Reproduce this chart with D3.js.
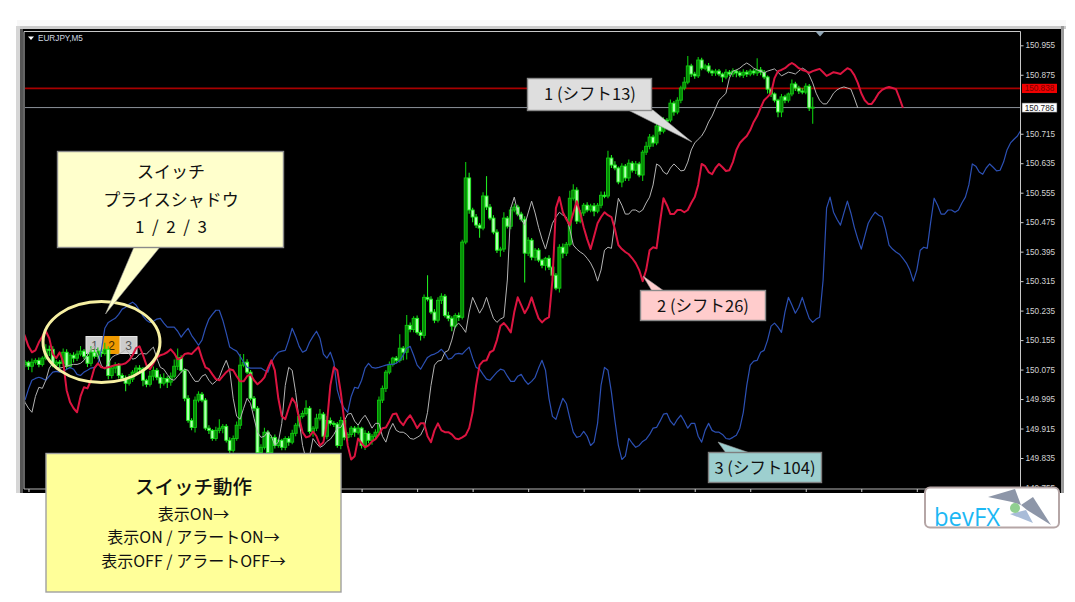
<!DOCTYPE html>
<html><head><meta charset="utf-8">
<script src="https://d3js.org/d3.v7.min.js"></script>
<style>html,body{margin:0;padding:0;background:#fff}svg{display:block}</style>
</head><body><div id="chart"></div>
<script>
// Chart title and axis values
const symbolLabel = "EURJPY,M5";
const priceTicks = [150.955,150.875,150.715,150.635,150.555,150.475,150.395,150.315,150.235,150.155,150.075,149.995,149.915,149.835,149.755];
const timeTicks = [1,17,33,49,65,81,97,113,129,145,161,177,193,209,225,241,257,273,289];
const askPrice = 150.838, bidPrice = 150.786;
const firstOpen = 150.089;

// Candle closes
const candleClose = [
150.095,150.084,150.095,150.100,150.089,150.106,150.130,150.130,150.087,150.095,
150.092,150.122,150.084,150.114,150.106,150.117,150.125,150.111,150.092,150.122,
150.111,150.125,150.119,150.130,150.059,150.079,150.087,150.059,150.051,150.038,
150.049,150.068,150.079,150.076,150.046,150.035,150.057,150.073,150.054,150.038,
150.051,150.041,150.057,150.084,150.108,150.073,149.997,149.937,149.918,149.992,
150.008,149.992,149.916,149.910,149.888,149.910,149.916,149.921,149.883,149.856,
149.888,149.924,150.087,150.095,150.068,149.997,149.970,149.850,149.864,149.905,
149.850,149.891,149.869,149.883,149.864,149.888,149.878,149.902,149.924,149.948,
149.956,149.970,149.907,149.916,149.943,149.954,149.894,149.937,149.929,149.927,
149.869,149.937,149.891,149.899,149.916,149.905,149.916,149.869,149.902,149.883,
149.894,149.905,149.992,150.024,150.068,150.089,150.106,150.100,150.133,150.122,
150.195,150.184,150.214,150.176,150.168,150.271,150.266,150.231,150.209,150.263,
150.274,150.222,150.214,150.193,150.222,150.217,150.421,150.595,150.508,150.489,
150.467,150.459,150.546,150.516,150.486,150.448,150.399,150.402,150.486,150.464,
150.508,150.516,150.497,150.483,150.391,150.426,150.380,150.399,150.372,150.358,
150.377,150.353,150.331,150.296,150.407,150.391,150.415,150.540,150.562,150.478,
150.500,150.521,150.508,150.519,150.505,150.521,150.548,150.546,150.649,150.630,
150.622,150.584,150.627,150.595,150.635,150.616,150.633,150.603,150.665,150.681,
150.706,150.690,150.736,150.722,150.752,150.752,150.798,150.774,150.806,150.839,
150.855,150.899,150.877,150.872,150.915,150.893,150.899,150.885,150.880,150.885,
150.877,150.869,150.882,150.877,150.885,150.880,150.874,150.882,150.877,150.885,
150.880,150.888,150.882,150.869,150.836,150.823,150.806,150.774,150.815,150.806,
150.823,150.850,150.839,150.831,150.828,150.844,150.785,150.787];

// Upper and lower wick lengths in points (0.001)
const wickUp = [
6,4,10,6,8,5,14,10,8,6, 6,10,8,6,8,10,14,6,8,16, 8,10,6,18,8,6,8,6,6,8, 14,6,8,8,6,4,14,10,6,8,
14,6,10,18,24,6,5,8,6,10, 8,6,6,8,4,10,24,6,6,8, 8,10,30,22,8,6,6,6,8,12, 6,6,8,4,4,6,6,10,6,6,
8,22,6,6,12,14,6,12,8,6, 6,10,8,6,6,6,8,4,8,6, 6,8,10,8,6,8,4,6,38,6, 28,8,6,8,6,8,60,8,8,8,
8,6,10,6,6,8,6,43,14,6, 8,6,10,54,8,8,8,6,16,6, 8,10,6,6,8,8,6,6,6,4, 4,8,4,6,8,10,6,20,16,8,
8,6,8,6,8,6,10,10,20,8, 10,4,8,6,10,6,8,6,6,12, 8,6,10,6,8,6,10,6,8,6, 14,27,6,6,8,6,6,8,4,6,
6,4,8,6,8,4,6,8,6,6, 6,32,8,6,4,4,4,4,8,6, 4,12,6,6,8,8,6,27];
const wickDown = [
8,10,16,6,8,6,6,18,6,8, 14,8,8,6,12,8,6,8,10,8, 6,8,10,6,10,8,14,8,6,22, 6,8,6,8,16,8,6,12,8,14,
6,16,10,6,10,6,8,6,8,14, 6,6,6,10,6,6,8,14,6,8, 6,6,10,6,6,6,8,6,6,6, 6,6,8,6,8,8,10,6,8,6,
6,6,6,14,8,6,6,8,6,8, 6,10,8,10,8,12,6,8,12,8, 12,8,6,8,10,6,6,8,6,22, 20,8,8,6,14,8,6,6,8,6,
10,6,8,14,6,10,6,6,10,14, 8,26,6,8,6,6,8,18,8,6, 8,6,6,6,80,8,8,10,6,8, 14,8,10,6,12,14,8,6,6,8,
6,8,6,6,14,6,8,6,6,8, 6,6,14,8,8,6,10,6,16,8, 8,10,6,10,6,8,6,10,6,8, 6,6,8,8,6,6,6,6,8,8,
6,14,6,6,8,12,6,8,8,6, 6,8,8,6,12,8,6,14,14,8, 6,6,8,8,6,6,8,43];

// The smoothed price traced by the three shadows; the first 104 values lie before the first visible candle
const shadowPrice = [
149.992,150.022,150.046,150.051,150.054,150.051,150.046,150.057,150.068,150.070,
150.068,150.070,150.076,150.081,150.076,150.062,150.059,150.068,150.073,150.079,
150.081,150.089,150.127,150.187,150.203,150.209,150.214,150.225,150.239,150.244,
150.252,150.258,150.250,150.236,150.220,150.209,150.203,150.206,150.212,150.214,
150.201,150.190,150.190,150.190,150.179,150.163,150.176,150.187,150.168,150.155,
150.141,150.155,150.187,150.212,150.225,150.236,150.236,150.209,150.174,150.136,
150.130,150.125,150.111,150.095,150.081,150.079,150.079,150.079,150.079,150.073,
150.068,150.095,150.111,150.122,150.125,150.127,150.155,150.187,150.165,150.138,
150.122,150.127,150.149,150.165,150.179,150.160,150.117,150.106,150.122,150.095,
150.019,149.986,149.970,149.959,150.002,150.027,150.024,150.046,150.079,150.092,
150.081,150.079,150.081,150.084,150.087,150.089,150.089,150.092,150.100,150.114,
150.133,150.138,150.114,150.087,150.076,150.092,150.108,150.114,150.117,150.122,
150.130,150.119,150.103,150.106,150.117,150.119,150.117,150.127,150.136,150.106,
150.081,150.076,150.062,150.049,150.046,150.057,150.068,150.076,150.073,150.057,
150.043,150.043,150.057,150.062,150.046,150.035,150.043,150.054,150.079,150.100,
150.073,149.997,149.948,149.940,149.970,149.997,149.983,149.943,149.905,149.891,
149.894,149.907,149.894,149.869,149.878,149.929,150.032,150.081,150.073,150.013,
149.937,149.869,149.831,149.840,149.888,149.875,149.864,149.869,149.880,149.886,
149.899,149.916,149.918,149.935,149.954,149.956,149.935,149.924,149.940,149.951,
149.935,149.916,149.929,149.929,149.894,149.878,149.910,149.929,149.910,149.905,
149.905,149.899,149.888,149.886,149.891,149.897,149.916,149.959,150.032,150.087,
150.098,150.100,150.122,150.127,150.155,150.193,150.201,150.190,150.176,150.231,
150.271,150.250,150.228,150.244,150.271,150.241,150.214,150.203,150.212,150.217,
150.318,150.513,150.543,150.502,150.483,150.467,150.500,150.532,150.500,150.461,
150.429,150.402,150.437,150.472,150.489,150.502,150.494,150.489,150.456,150.413,
150.402,150.394,150.388,150.377,150.364,150.345,150.315,150.345,150.399,150.407,
150.404,150.475,150.540,150.521,150.497,150.497,150.508,150.508,150.502,150.508,
150.527,150.543,150.576,150.633,150.627,150.611,150.605,150.622,150.633,150.624,
150.614,150.616,150.638,150.671,150.690,150.700,150.709,150.725,
150.747,150.763,150.785,150.806,150.815,150.825,150.866,150.885,150.888,150.893,
150.901,150.907,150.901,150.893,150.888,150.885,150.880,150.885,150.888,150.891,
150.882,150.872,150.877,150.882,150.880,150.877,150.885,150.893,150.888,150.874,
150.853,150.825,150.806,150.796,150.796,150.809,150.825,150.834,150.839,150.842,
150.839,150.836,150.812,150.785];
const hiddenBars = 104;
const shadowShifts = [104, 13, 26];        // blue, gray, red
const shadowColors = ["#2c50b4", "#b4b4b4", "#dc1440"];
const shadowWidths = [1.2, 1, 2];

// Annotation texts
const switchLines = ["スイッチ","プライスシャドウ","1  /  2  /  3"];
const actionTitle = "スイッチ動作";
const actionLines = ["表示ON→","表示ON / アラートON→","表示OFF / アラートOFF→"];
const buttonLabels = ["1","2","3"];
const tagTexts = ["1 (シフト13)","2 (シフト26)","3 (シフト104)"];

const W = 1075, H = 602;
const JP = "'Noto Sans CJK JP','Noto Sans',sans-serif";
const svg = d3.select("#chart").append("svg").attr("width",W).attr("height",H);
const x = d3.scaleLinear().domain([0,227]).range([25,812.7]);
const y = d3.scaleLinear().domain([149.835,150.955]).range([458,45.3]);

// window frame
svg.append("rect").attr("x",17).attr("y",20).attr("width",1049).attr("height",6).attr("fill","#f8f8f8");
svg.append("rect").attr("x",17).attr("y",26).attr("width",1049).attr("height",3).attr("fill","#c9c9c9");
svg.append("rect").attr("x",16).attr("y",26).attr("width",4).attr("height",467).attr("fill","#d6d6d6");
svg.append("rect").attr("x",20).attr("y",29).attr("width",1044).attr("height",464).attr("fill","#000");
svg.append("rect").attr("x",20).attr("y",29).attr("width",3).attr("height",464).attr("fill","#555");
svg.append("rect").attr("x",1061).attr("y",26).attr("width",3).attr("height",467).attr("fill","#9a9a9a");
svg.append("path").attr("d","M24 489V31.5H1020.5V489").attr("fill","none").attr("stroke","#c8c8c8");
svg.append("line").attr("x1",24).attr("x2",1020).attr("y1",489).attr("y2",489).attr("stroke","#b4b4b4");

// axes
const priceAxis = d3.axisRight(y).tickValues(priceTicks).tickFormat(d3.format(".3f")).tickSize(3).tickPadding(2);
const gy = svg.append("g").attr("transform","translate(1020.5,0)").call(priceAxis);
gy.select(".domain").remove();
gy.selectAll("line").attr("stroke","#c8c8c8");
gy.selectAll("text").attr("fill","#d2d2d2").attr("font-family","'Liberation Sans',sans-serif").attr("font-size",8.2);
const timeAxis = d3.axisBottom(x).tickValues(timeTicks).tickFormat("").tickSize(3);
const gx = svg.append("g").attr("transform","translate(0,489)").call(timeAxis);
gx.select(".domain").remove();
gx.selectAll("line").attr("stroke","#d0d0d0");

const defs = svg.append("defs");
defs.append("clipPath").attr("id","plot").append("rect").attr("x",25).attr("y",32).attr("width",995).attr("height",457);
const plot = svg.append("g").attr("clip-path","url(#plot)");

// price lines
plot.append("line").attr("x1",24).attr("x2",1020).attr("y1",y(askPrice)).attr("y2",y(askPrice)).attr("stroke","#a80000").attr("stroke-width",1.6);
plot.append("line").attr("x1",24).attr("x2",1020).attr("y1",y(bidPrice)).attr("y2",y(bidPrice)).attr("stroke","#8b929a").attr("stroke-width",1);

// switch buttons sit under the candles
const btnScale = d3.scaleBand().domain(buttonLabels).range([86,137]);
const btn = plot.selectAll(".btn").data(buttonLabels).join("g").attr("class","btn");
btn.append("rect").attr("x",d=>btnScale(d)).attr("y",336.5).attr("width",btnScale.bandwidth()).attr("height",17)
  .attr("fill",d=>d==="2"?"#f09a00":"#cccccc").attr("stroke",d=>d==="2"?"#f09a00":"#e6e6e6");
btn.append("text").attr("x",d=>btnScale(d)+btnScale.bandwidth()/2).attr("y",349.5).attr("text-anchor","middle")
  .attr("font-family","'Liberation Sans',sans-serif").attr("font-size",12).attr("fill",d=>d==="2"?"#402800":"#555").text(d=>d);

// candles
const candles = candleClose.map((c,i)=>{
  const o = i===0 ? firstOpen : candleClose[i-1];
  return {i,o,c,h:Math.max(o,c)+wickUp[i]/1000,l:Math.min(o,c)-wickDown[i]/1000,up:c>o};
});
const cg = plot.append("g");
cg.selectAll("line").data(candles).join("line")
  .attr("x1",d=>x(d.i)).attr("x2",d=>x(d.i)).attr("y1",d=>y(d.h)).attr("y2",d=>y(d.l))
  .attr("stroke",d=>d.up?"#0cc80c":"#1fe81f").attr("stroke-width",1.1);
cg.selectAll("rect").data(candles).join("rect")
  .attr("x",d=>x(d.i)-1.5).attr("width",3)
  .attr("y",d=>Math.min(y(d.o),y(d.c))).attr("height",d=>Math.max(1,Math.abs(y(d.o)-y(d.c))))
  .attr("fill",d=>d.up?"#068a06":"#b4ffb4").attr("stroke",d=>d.up?"#10c810":"#1cf01c").attr("stroke-width",.9);

// the three shadows
const line = d3.line().x(d=>x(d.slot)).y(d=>y(d.p));
shadowShifts.forEach((s,k)=>{
  const pts = shadowPrice.map((p,i)=>({slot:i-hiddenBars+s,p}));
  plot.append("path").datum(pts).attr("d",line).attr("fill","none")
    .attr("stroke",shadowColors[k]).attr("stroke-width",shadowWidths[k]).attr("stroke-linejoin","round");
});

// price tags
function tag(v,bg,fg){
  const g = svg.append("g");
  g.append("rect").attr("x",1022).attr("y",y(v)-4.6).attr("width",35).attr("height",9.2).attr("fill",bg).attr("stroke",bg==="#fff"?"#444":"none").attr("stroke-width",.6);
  g.append("text").attr("x",1039.5).attr("y",y(v)+3).attr("text-anchor","middle").attr("font-family","'Liberation Sans',sans-serif").attr("font-size",8.2).attr("fill",fg).text(v.toFixed(3));
}
tag(askPrice,"#f00000","#7a0000");
tag(bidPrice,"#fff","#222");

// chart label and top marker
svg.append("path").attr("d","M28 36.5h6l-3 3.5z").attr("fill","#fff");
svg.append("text").attr("x",38).attr("y",41).attr("font-family","'Liberation Sans',sans-serif").attr("font-size",8.2).attr("fill","#cfd8e0").text(symbolLabel);
svg.append("path").attr("d","M815.5 31.5h9l-4.5 5z").attr("fill","#8fa5b5");

// ellipse round the buttons
svg.append("ellipse").attr("cx",101.5).attr("cy",342).attr("rx",58.5).attr("ry",40.5).attr("fill","none").attr("stroke","#f7f0a2").attr("stroke-width",3);

// callouts
function box(bx,by,bw,bh,fill,stroke,tail){
  if(tail) svg.append("path").attr("d",tail).attr("fill",fill).attr("stroke","#999").attr("stroke-width",.6);
  svg.append("rect").attr("x",bx).attr("y",by).attr("width",bw).attr("height",bh).attr("fill",fill).attr("stroke",stroke).attr("stroke-width",1.4);
}
function jp(tx,ty,str,size,weight){
  svg.append("text").attr("x",tx).attr("y",ty).attr("text-anchor","middle").attr("font-family",JP).attr("xml:space","preserve").style("white-space","pre")
    .attr("font-size",size).attr("font-weight",weight||400).attr("fill","#111").text(str);
}
box(57.5,151.5,226,96,"#ffffcc","#8a8a8a","M134 247L105.5 314L160 247Z");
switchLines.forEach((t,i)=>jp(171,178+i*27.5,t,17));
box(527.5,78.5,124,32,"#dedede","#8a8a8a","M628 110L692 142L653 110Z");
jp(590,100,tagTexts[0],16.5);
box(640.5,290.5,125,30,"#ffcccc","#8a8a8a","M652 291L643 276L664 291Z");
jp(703,311.5,tagTexts[1],16.5);
box(708.5,452.5,113,30,"#9dcfcf","#7f7f7f","M726 453L718 442L750 453Z");
jp(765,473.5,tagTexts[2],16.5);
box(46,453.5,295,138.5,"#ffff99","#a0a0a0");
jp(193.5,494,actionTitle,19.5,500);
actionLines.forEach((t,i)=>jp(193.5,519.5+i*23.5,t,16));

// logo
svg.append("rect").attr("x",925).attr("y",487.5).attr("width",134).attr("height",40).attr("rx",5).attr("fill","#fff").attr("stroke","#b5a6a6").attr("stroke-width",2);
svg.append("text").attr("x",934).attr("y",525.5).attr("font-family","'Open Sans',sans-serif").attr("font-size",25).attr("textLength",66).attr("lengthAdjust","spacingAndGlyphs").attr("fill","#1cb8f4").text("bevFX");
svg.append("path").attr("d","M988 497L1015 489L1021 505L1012 502Z").attr("fill","#8d96a8");
svg.append("path").attr("d","M1021 505L1033 497L1051 525L1027 510Z").attr("fill","#8d96a8");
svg.append("path").attr("d","M1010 514L1026 510L1033 523Z").attr("fill","#a8bcd8");
svg.append("circle").attr("cx",1015).attr("cy",508).attr("r",5).attr("fill","#90cf90");
</script></body></html>
